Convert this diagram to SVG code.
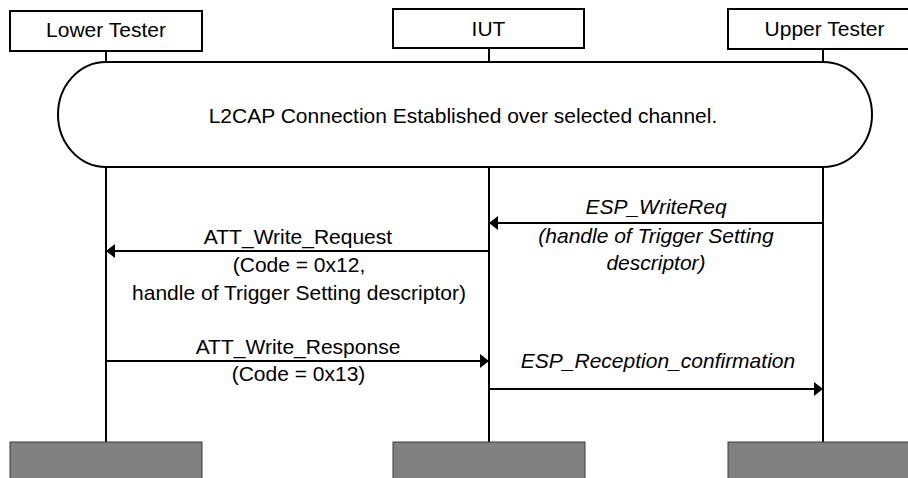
<svg xmlns="http://www.w3.org/2000/svg" width="908" height="478" viewBox="0 0 908 478">
  <style>
    .box { fill: #ffffff; stroke: #000000; stroke-width: 2; }
    .foot { fill: #808080; stroke: #3a3a3a; stroke-width: 1; }
    .life { stroke: #000000; stroke-width: 2; fill: none; }
    .msg { stroke: #000000; stroke-width: 2; fill: none; marker-end: url(#arrow); }
    .pill { fill: #ffffff; stroke: #000000; stroke-width: 2; }
    text { font-family: "Liberation Sans", Arial, sans-serif; font-size: 21px; fill: #000000; text-anchor: middle; }
    .it { font-style: italic; }
  </style>
  <defs>
    <marker id="arrow" markerUnits="userSpaceOnUse" markerWidth="10" markerHeight="14" refX="9" refY="7" orient="auto">
      <path d="M0,0 L9,7 L0,14 Z" fill="#000000"/>
    </marker>
  </defs>
  <rect x="0" y="0" width="908" height="478" fill="#ffffff"/>

  <g id="lifelines">
    <line class="life" x1="106" y1="51" x2="106" y2="62"/>
    <line class="life" x1="489" y1="48" x2="489" y2="62"/>
    <line class="life" x1="823" y1="49" x2="823" y2="62"/>
    <line class="life" x1="106" y1="167" x2="106" y2="442"/>
    <line class="life" x1="489" y1="167" x2="489" y2="442"/>
    <line class="life" x1="823" y1="167" x2="823" y2="442"/>
  </g>

  <g id="lower-tester">
    <rect class="box" x="10" y="11" width="192" height="40"/>
    <text x="106" y="37">Lower Tester</text>
  </g>
  <g id="iut">
    <rect class="box" x="393" y="9" width="191" height="39"/>
    <text x="488.5" y="36">IUT</text>
  </g>
  <g id="upper-tester">
    <rect class="box" x="728" y="9" width="190" height="40"/>
    <text x="824.5" y="36">Upper Tester</text>
  </g>

  <g id="l2cap-connection">
    <path class="pill" d="M106,62 H823 A49,52.5 0 0 1 823,167 H106 A48,52.5 0 0 1 106,62 Z"/>
    <text x="463" y="123">L2CAP Connection Established over selected channel.</text>
  </g>

  <g id="connectors">
    <path class="msg" d="M823,223 H489"/>
    <path class="msg" d="M489,251 H106"/>
    <path class="msg" d="M106,361 H489"/>
    <path class="msg" d="M489,389 H823"/>
  </g>

  <g id="labels">
    <text class="it" x="656" y="214">ESP_WriteReq</text>
    <text class="it" x="656" y="243">(handle of Trigger Setting</text>
    <text class="it" x="656" y="270">descriptor)</text>
    <text x="298" y="244">ATT_Write_Request</text>
    <text x="299" y="272">(Code = 0x12,</text>
    <text x="299" y="300">handle of Trigger Setting descriptor)</text>
    <text x="298" y="354">ATT_Write_Response</text>
    <text x="298.5" y="381">(Code = 0x13)</text>
    <text class="it" x="658" y="368">ESP_Reception_confirmation</text>
  </g>

  <g id="lower-tester-end">
    <rect class="foot" x="10" y="442" width="192" height="40"/>
  </g>
  <g id="iut-end">
    <rect class="foot" x="393" y="442" width="192" height="40"/>
  </g>
  <g id="upper-tester-end">
    <rect class="foot" x="728" y="442" width="190" height="40"/>
  </g>
</svg>
